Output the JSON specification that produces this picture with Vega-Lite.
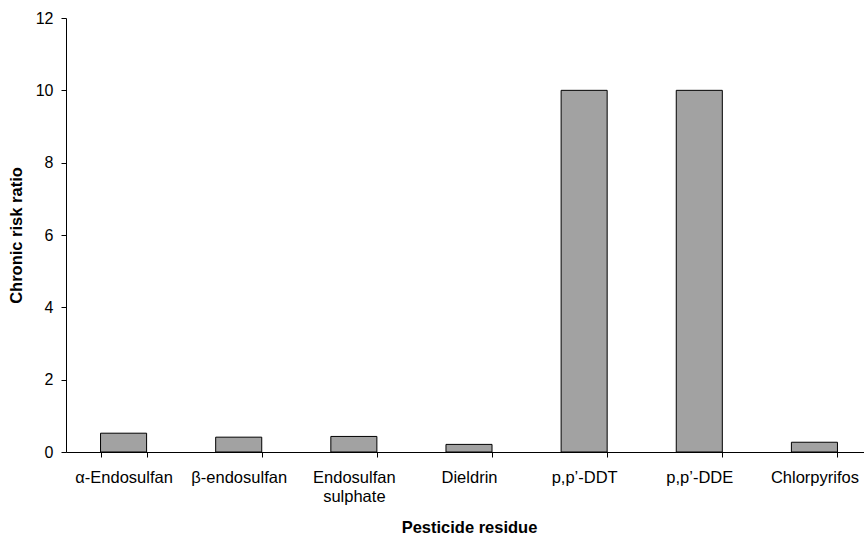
{
  "$schema": "https://vega.github.io/schema/vega-lite/v6.json",
  "autosize": {"type": "none"},
  "padding": {"left": 66, "top": 18, "right": 0, "bottom": 84},
  "width": 806,
  "height": 434,
  "background": "white",
  "data": {
    "values": [
      {"residue": "α-Endosulfan", "ratio": 0.52},
      {"residue": "β-endosulfan", "ratio": 0.41},
      {"residue": "Endosulfan sulphate", "ratio": 0.43},
      {"residue": "Dieldrin", "ratio": 0.21},
      {"residue": "p,p’-DDT", "ratio": 10},
      {"residue": "p,p’-DDE", "ratio": 10},
      {"residue": "Chlorpyrifos", "ratio": 0.27}
    ]
  },
  "config": {
    "view": {"stroke": null},
    "font": "Liberation Sans"
  },
  "mark": {"type": "bar", "fill": "#a2a2a2", "stroke": "#000000", "strokeWidth": 1},
  "encoding": {
    "x": {
      "field": "residue",
      "type": "nominal",
      "sort": null,
      "scale": {"paddingInner": 0.6, "paddingOuter": 0.3},
      "axis": {
        "title": "Pesticide residue",
        "titleFont": "Liberation Sans",
        "titleFontSize": 16.5,
        "titleFontWeight": "bold",
        "titleColor": "#000000",
        "titlePadding": 15,
        "labelAngle": 0,
        "labelFont": "Liberation Sans",
        "labelFontSize": 16.5,
        "labelColor": "#000000",
        "labelPadding": 12,
        "labelLimit": 0,
        "labelExpr": "datum.label == 'Endosulfan sulphate' ? ['Endosulfan', 'sulphate'] : datum.label",
        "labelLineHeight": 19,
        "tickBand": "extent",
        "tickSize": 5,
        "tickColor": "#000000",
        "domainColor": "#000000",
        "grid": false
      }
    },
    "y": {
      "field": "ratio",
      "type": "quantitative",
      "scale": {"domain": [0, 12], "nice": false},
      "axis": {
        "title": "Chronic risk ratio",
        "titleFont": "Liberation Sans",
        "titleFontSize": 16.5,
        "titleFontWeight": "bold",
        "titleColor": "#000000",
        "titlePadding": 11,
        "values": [0, 2, 4, 6, 8, 10, 12],
        "labelFont": "Liberation Sans",
        "labelFontSize": 16,
        "labelColor": "#000000",
        "labelPadding": 8,
        "tickSize": 5,
        "tickColor": "#000000",
        "domainColor": "#000000",
        "grid": false
      }
    }
  }
}
